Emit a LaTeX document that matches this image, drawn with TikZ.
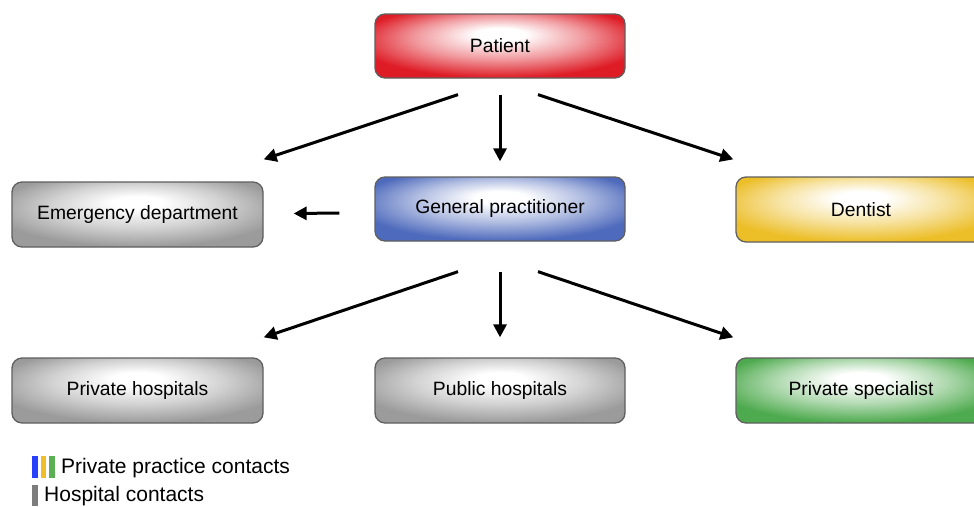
\documentclass[tikz,border=0pt]{standalone}
\usepackage{fontspec}
\setmainfont{Liberation Sans}
\usetikzlibrary{arrows.meta}
\definecolor{cRed}{RGB}{222,28,38}
\definecolor{cBlue}{RGB}{78,106,188}
\definecolor{cYel}{RGB}{236,190,40}
\definecolor{cGrn}{RGB}{78,170,78}
\definecolor{cGry}{RGB}{155,155,155}
\definecolor{cBorder}{RGB}{95,95,95}
\definecolor{lBlue}{RGB}{40,64,250}
\definecolor{lYel}{RGB}{240,190,40}
\definecolor{lGrn}{RGB}{92,176,84}
\definecolor{lGry}{RGB}{125,125,125}
\pgfdeclareradialshading{glossred}{\pgfpoint{0bp}{10bp}}{color(0bp)=(white); color(5bp)=(white); color(17bp)=(cRed!45!white); color(29bp)=(cRed); color(50bp)=(cRed)}
\pgfdeclareradialshading{glossblue}{\pgfpoint{0bp}{10bp}}{color(0bp)=(white); color(5bp)=(white); color(17bp)=(cBlue!45!white); color(29bp)=(cBlue); color(50bp)=(cBlue)}
\pgfdeclareradialshading{glossyel}{\pgfpoint{0bp}{10bp}}{color(0bp)=(white); color(5bp)=(white); color(17bp)=(cYel!45!white); color(29bp)=(cYel); color(50bp)=(cYel)}
\pgfdeclareradialshading{glossgrn}{\pgfpoint{0bp}{10bp}}{color(0bp)=(white); color(5bp)=(white); color(17bp)=(cGrn!45!white); color(29bp)=(cGrn); color(50bp)=(cGrn)}
\pgfdeclareradialshading{glossgry}{\pgfpoint{0bp}{10bp}}{color(0bp)=(white); color(5bp)=(white); color(17bp)=(cGry!45!white); color(29bp)=(cGry); color(50bp)=(cGry)}
\tikzset{
  box/.style={draw=cBorder, line width=1.3pt, rounded corners=10pt, minimum width=250pt, minimum height=64pt, inner sep=0pt, font=\fontsize{19.3}{22}\selectfont, text=black},
  arr/.style={line width=3pt, -{Triangle[length=13pt,width=13pt]}},
  legtext/.style={anchor=base west, inner sep=0pt, font=\fontsize{21}{24}\selectfont}
}
\begin{document}
\begin{tikzpicture}[x=1pt,y=1pt]
\useasboundingbox (0,0) rectangle (974,-506);
\node[box, shading=glossred] (pat) at (500,-46) {Patient};
\node[box, shading=glossgry, minimum width=251pt, minimum height=65pt] (ed) at (137.5,-214.5) {Emergency department};
\node[box, shading=glossblue] (gp) at (500,-209) {General practitioner};
\node[box, shading=glossyel, minimum height=65pt] (den) at (861,-209.5) {Dentist};
\node[box, shading=glossgry, minimum width=251pt, minimum height=65pt] (ph) at (137.5,-390.5) {Private hospitals};
\node[box, shading=glossgry, minimum height=65pt] (pub) at (500,-390.5) {Public hospitals};
\node[box, shading=glossgrn, minimum height=65pt] (spec) at (861,-390.5) {Private specialist};
% arrows
\draw[arr] ([xshift=-42pt,yshift=-16pt]pat.south) -- ([yshift=22pt]ed.north east);
\draw[arr] ([yshift=-16pt]pat.south) -- ([yshift=15pt]gp.north);
\draw[arr] ([xshift=38pt,yshift=-16pt]pat.south) -- ([xshift=-2pt,yshift=17pt]den.north west);
\draw[arr] ([xshift=-35pt,yshift=-4pt]gp.west) -- ([xshift=30pt,yshift=1pt]ed.east);
\draw[arr] ([xshift=-42pt,yshift=-30pt]gp.south) -- ([yshift=20pt]ph.north east);
\draw[arr] ([yshift=-30pt]gp.south) -- ([yshift=20pt]pub.north);
\draw[arr] ([xshift=38pt,yshift=-30pt]gp.south) -- ([xshift=-2pt,yshift=20pt]spec.north west);
% legend
\fill[lBlue] (32,-456) rectangle (37.5,-478);
\fill[lYel] (40.5,-456) rectangle (46,-478);
\fill[lGrn] (49,-456) rectangle (55,-478);
\fill[lGry] (32,-485) rectangle (38,-506);
\node[legtext] (l1) at (61,-473) {Private practice contacts};
\node[legtext] (l2) at (44,-501.5) {Hospital contacts};
\end{tikzpicture}
\end{document}
